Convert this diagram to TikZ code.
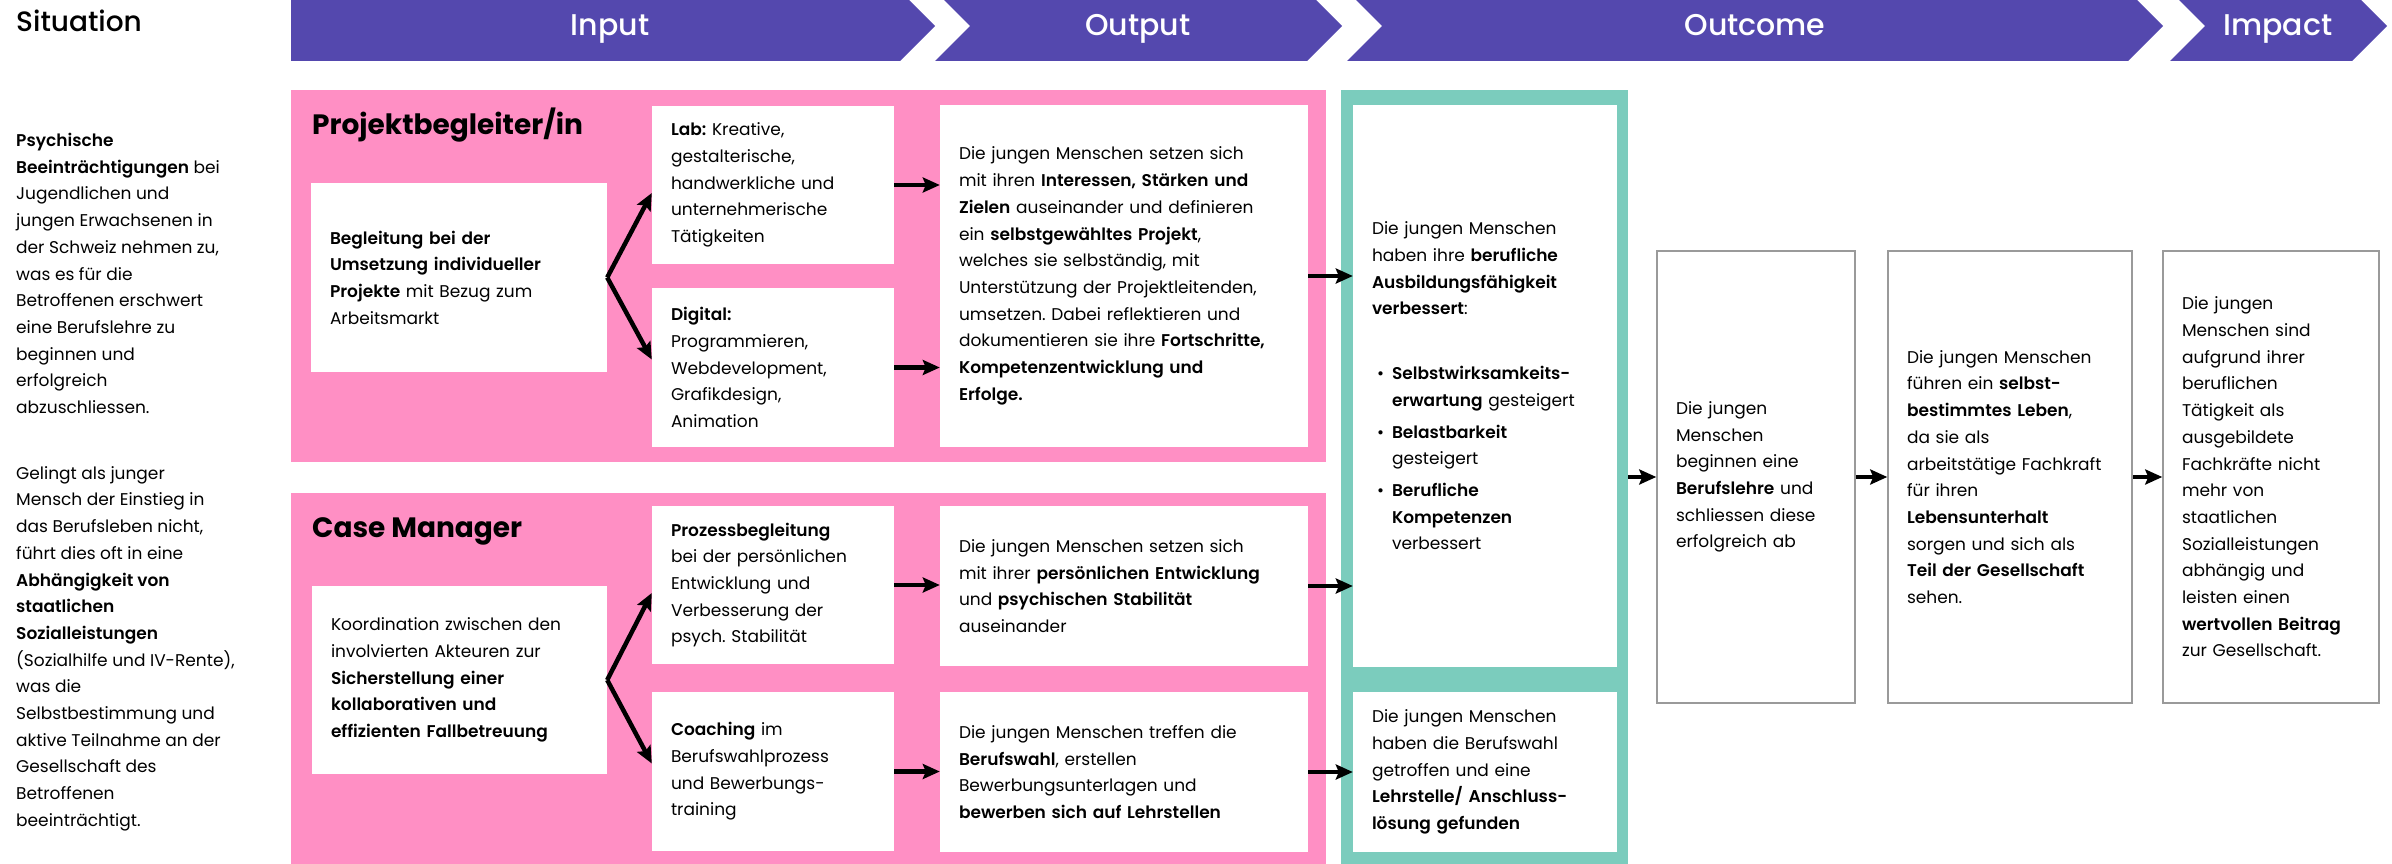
\documentclass[tikz,border=0pt]{standalone}
\usepackage{fontspec}
\setmainfont{Poppins}[BoldFont={* SemiBold}]
\newfontfamily\medfont{Poppins Medium}
\newfontfamily\headfont{Poppins}[UprightFont={* Bold}]
\usetikzlibrary{arrows.meta}

\newcommand{\bodysize}{\fontsize{17}{26.7}\selectfont\frenchspacing}

\begin{document}
\begin{tikzpicture}[x=1pt, y=-1pt,
    %Option for nice arrows
    >={Stealth[length=17pt,width=15pt,inset=3pt]}, %
    flow/.style={line width=4.5pt,->},
    banner/.style={fill=lilac},
    bannerlabel/.style={text=white, font=\medfont\fontsize{30}{36}\selectfont, inner sep=0pt, anchor=base},
    heading/.style={font=\headfont\fontsize{28}{34}\selectfont, inner sep=0pt, anchor=base west},
    cell/.style={fill=white, inner ysep=0pt, inner xsep=19pt, align=left, font=\bodysize},
    framed/.style={cell, draw=frame, line width=1.5pt},
]
    % Colors
    \definecolor{lilac}{HTML}{5448AE}
    \definecolor{rose}{HTML}{FF8FC4}
    \definecolor{mint}{HTML}{7BCCBD}
    \definecolor{frame}{HTML}{9A9A9A}

    \useasboundingbox (0,0) rectangle (2392,864);
    \clip (0,0) rectangle (2392,864);

    % Banner
    \fill[banner] (291,-9) -- (900,-9) -- (935,26) -- (900,61) -- (291,61) -- cycle;
    \foreach \xa/\xb in {935/1307, 1347/2128, 2170/2352}
        \fill[banner] (\xa,-9) -- (\xb,-9) -- (\xb+35,26) -- (\xb,61) -- (\xa,61) -- (\xa+35,26) -- cycle;
    \node[bannerlabel] (inp) at (610,36) {Input};
    \node[bannerlabel] (outp) at (1138,36) {Output};
    \node[bannerlabel] (outc) at (1755,36) {Outcome};
    \node[bannerlabel] (imp) at (2278,36) {Impact};

    % Situation
    \node[heading, font=\medfont\fontsize{28}{34}\selectfont] (situ) at (16,32) {Situation};
    \node[anchor=north west, inner sep=0pt, align=left, font=\bodysize] (sit) at (16,133)
        {\textbf{Psychische}\\ \textbf{Beeinträchtigungen} bei\\ Jugendlichen und\\
         jungen Erwachsenen in\\ der Schweiz nehmen zu,\\ was es für die\\
         Betroffenen erschwert\\ eine Berufslehre zu\\ beginnen und\\ erfolgreich\\
         abzuschliessen.\\[39pt]
         Gelingt als junger\\ Mensch der Einstieg in\\ das Berufsleben nicht,\\
         führt dies oft in eine\\ \textbf{Abhängigkeit von}\\ \textbf{staatlichen}\\
         \textbf{Sozialleistungen}\\ (Sozialhilfe und IV-Rente),\\ was die\\
         Selbstbestimmung und\\ aktive Teilnahme an der\\ Gesellschaft des\\
         Betroffenen\\ beeinträchtigt.};

    % Projektbegleiter/in
    \fill[rose] (291,90) rectangle (1326,462);
    \node[heading] (pbtitle) at (312,135) {Projektbegleiter/in};
    \node[cell, minimum width=296pt, minimum height=189pt, text width=258pt] (begl) at (459,277.5)
        {\textbf{Begleitung bei der}\\ \textbf{Umsetzung individueller}\\ \textbf{Projekte} mit Bezug zum\\ Arbeitsmarkt};
    \node[cell, minimum width=242pt, minimum height=158pt, text width=204pt] (lab) at (773,185)
        {\textbf{Lab:} Kreative,\\ gestalterische,\\ handwerkliche und\\ unternehmerische\\ Tätigkeiten};
    \node[cell, minimum width=242pt, minimum height=159pt, text width=204pt] (digi) at (773,367.5)
        {\textbf{Digital:}\\ Programmieren,\\ Webdevelopment,\\ Grafikdesign,\\ Animation};
    \node[cell, minimum width=368pt, minimum height=342pt, text width=330pt] (out1) at (1124,276)
        {Die jungen Menschen setzen sich\\ mit ihren \textbf{Interessen, Stärken und}\\
         \textbf{Zielen} auseinander und definieren\\ ein \textbf{selbstgewähltes Projekt},\\
         welches sie selbständig, mit\\ Unterstützung der Projektleitenden,\\
         umsetzen. Dabei reflektieren und\\ dokumentieren sie ihre \textbf{Fortschritte,}\\
         \textbf{Kompetenzentwicklung und}\\ \textbf{Erfolge.}};

    % Case Manager
    \fill[rose] (291,493) rectangle (1326,864);
    \node[heading] (cmtitle) at (312,537) {Case Manager};
    \node[cell, minimum width=295pt, minimum height=188pt, text width=257pt] (koord) at (459.5,680)
        {Koordination zwischen den\\ involvierten Akteuren zur\\ \textbf{Sicherstellung einer}\\
         \textbf{kollaborativen und}\\ \textbf{effizienten Fallbetreuung}};
    \node[cell, minimum width=242pt, minimum height=158pt, text width=204pt] (proz) at (773,585)
        {\textbf{Prozessbegleitung}\\ bei der persönlichen\\ Entwicklung und\\ Verbesserung der\\ psych. Stabilität};
    \node[cell, minimum width=242pt, minimum height=159pt, text width=204pt] (coach) at (773,771.5)
        {\textbf{Coaching} im\\ Berufswahlprozess\\ und Bewerbungs-\\ training};
    \node[cell, minimum width=368pt, minimum height=160pt, text width=330pt] (out3) at (1124,586)
        {Die jungen Menschen setzen sich\\ mit ihrer \textbf{persönlichen Entwicklung}\\
         und \textbf{psychischen Stabilität}\\ auseinander};
    \node[cell, minimum width=368pt, minimum height=160pt, text width=330pt] (out4) at (1124,772)
        {Die jungen Menschen treffen die\\ \textbf{Berufswahl}, erstellen\\
         Bewerbungsunterlagen und\\ \textbf{bewerben sich auf Lehrstellen}};

    % Outcome
    \node[fill=mint, inner sep=0pt, minimum width=287pt, minimum height=774pt] (mint) at (1484.5,477) {};
    \node[cell, minimum width=264pt, minimum height=562pt, text width=226pt] (ausb) at (1485,386)
        {Die jungen Menschen\\ haben ihre \textbf{berufliche}\\ \textbf{Ausbildungsfähigkeit}\\
         \textbf{verbessert}:\\[38pt]
         \hspace*{5pt}\makebox[15pt][l]{\textbullet}\textbf{Selbstwirksamkeits-}\\
         \hspace*{20pt}\textbf{erwartung} gesteigert\\[5pt]
         \hspace*{5pt}\makebox[15pt][l]{\textbullet}\textbf{Belastbarkeit}\\
         \hspace*{20pt}gesteigert\\[5pt]
         \hspace*{5pt}\makebox[15pt][l]{\textbullet}\textbf{Berufliche}\\
         \hspace*{20pt}\textbf{Kompetenzen}\\
         \hspace*{20pt}verbessert};
    \node[cell, minimum width=264pt, minimum height=160pt, text width=226pt] (lehr) at (1485,772)
        {Die jungen Menschen\\ haben die Berufswahl\\ getroffen und eine\\
         \textbf{Lehrstelle/ Anschluss-}\\ \textbf{lösung gefunden}};
    \node[framed, minimum width=198pt, minimum height=452pt, text width=160pt] (lehre) at (1756,477)
        {Die jungen\\ Menschen\\ beginnen eine\\ \textbf{Berufslehre} und\\ schliessen diese\\ erfolgreich ab};
    \node[framed, minimum width=244pt, minimum height=452pt, text width=206pt] (leben) at (2010,477)
        {Die jungen Menschen\\ führen ein \textbf{selbst-}\\ \textbf{bestimmtes Leben},\\ da sie als\\
         arbeitstätige Fachkraft\\ für ihren\\ \textbf{Lebensunterhalt}\\ sorgen und sich als\\
         \textbf{Teil der Gesellschaft}\\ sehen.};

    % Impact
    \node[framed, minimum width=216pt, minimum height=452pt, text width=178pt] (beitrag) at (2271,477)
        {Die jungen\\ Menschen sind\\ aufgrund ihrer\\ beruflichen\\ Tätigkeit als\\ ausgebildete\\
         Fachkräfte nicht\\ mehr von\\ staatlichen\\ Sozialleistungen\\ abhängig und\\
         leisten einen\\ \textbf{wertvollen Beitrag}\\ zur Gesellschaft.};

    % Arrows
    \draw[flow] (begl.east) -- ([yshift=-8pt]lab.west);
    \draw[flow] (begl.east) -- ([yshift=8pt]digi.west);
    \draw[flow] (koord.east) -- ([yshift=-8pt]proz.west);
    \draw[flow] (koord.east) -- ([yshift=8pt]coach.west);
    \draw[flow] (lab.east) -- (lab.east -| out1.west);
    \draw[flow] (digi.east) -- (digi.east -| out1.west);
    \draw[flow] (proz.east) -- (proz.east -| out3.west);
    \draw[flow] (coach.east) -- (coach.east -| out4.west);
    \draw[flow] (out1.east) -- (out1.east -| ausb.west);
    \draw[flow] (out3.east) -- (out3.east -| ausb.west);
    \draw[flow] (out4.east) -- (lehr.west);
    \draw[flow] (mint.east |- lehre.west) -- (lehre.west);
    \draw[flow] (lehre.east) -- (leben.west);
    \draw[flow] (leben.east) -- (beitrag.west);
\end{tikzpicture}
\end{document}
